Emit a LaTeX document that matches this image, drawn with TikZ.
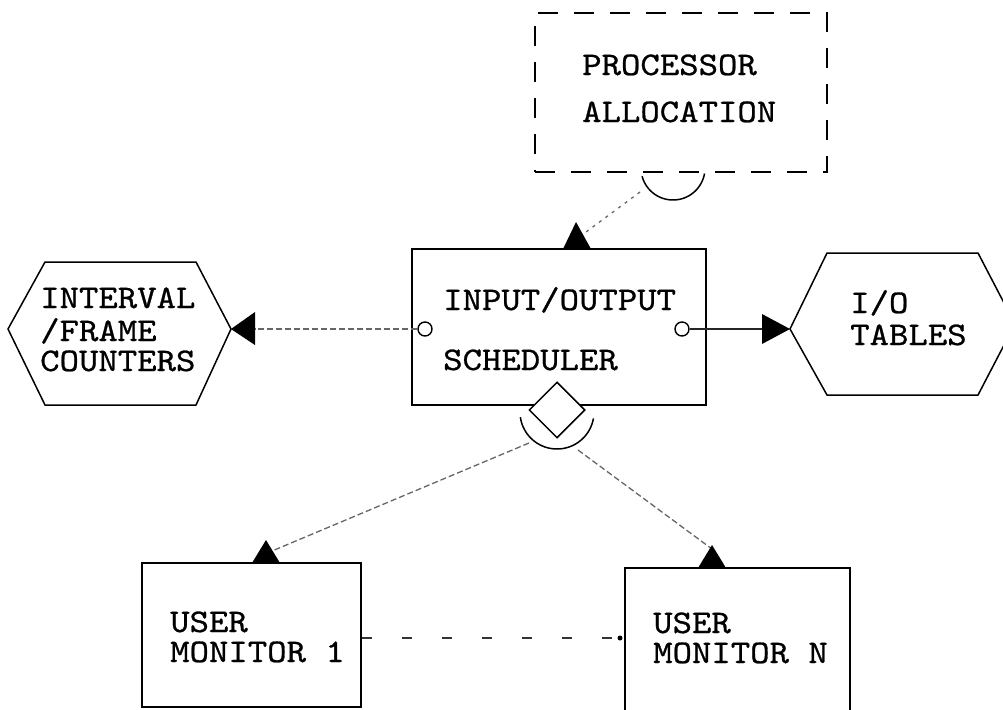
\documentclass[tikz,border=0pt]{standalone}
\usepackage{fontspec}
\setmonofont{lmmono10-regular.otf}[FakeStretch=1.12, FakeBold=0.8]
\usetikzlibrary{shapes.geometric}
\begin{document}
\begin{tikzpicture}[x=1pt,y=-1pt,
  box/.style={draw, line width=1.5pt, inner sep=0pt, rectangle},
  dbox/.style={box, dash pattern=on 20pt off 16pt},
  lbl/.style={font=\fontsize{33}{38}\selectfont\ttfamily, anchor=base west, inner sep=0pt},
  conn/.style={black!60, line width=1.3pt, dash pattern=on 6pt off 3pt},
  dotconn/.style={black!60, line width=1.3pt, dash pattern=on 3pt off 5pt},
  solidconn/.style={black!85, line width=1.3pt},
  tri/.style={fill=black},
  hex/.style={draw, line width=1.5pt, line join=miter},
  port/.style={circle, draw, line width=1.4pt, minimum size=14pt, inner sep=0pt, fill=white},
  sym/.style={line width=1.5pt}]
\clip (0,0) rectangle (1003,709);
\fill[white] (0,0) rectangle (1003,709);

% boxes
\node[dbox, minimum width=292pt, minimum height=159pt] (proc) at (681,92.5) {};
\node[box, minimum width=294pt, minimum height=156pt] (sched) at (559,327) {};
\node[box, minimum width=219pt, minimum height=144pt] (mon1) at (251.5,635) {};
\node[box, minimum width=225pt, minimum height=152pt] (monN) at (737.5,644) {};

% hexagons
\coordinate (ivL) at (8,329);
\coordinate (ivR) at (231,329);
\draw[hex] (ivL) -- (45,262) -- (196,262) -- (ivR) -- (196,405) -- (45,405) -- cycle;
\coordinate (ioL) at (790,329);
\coordinate (ioR) at (1015,324);
\draw[hex] (ioL) -- (827,253) -- (978,253) -- (ioR) -- (978,395) -- (827,395) -- cycle;

% labels
\node[lbl] (t1) at (582,75) {PROCESSOR};
\node[lbl] (t2) at (582,122) {ALLOCATION};
\node[lbl] (t3) at (443,310) {INPUT/OUTPUT};
\node[lbl] (t4) at (443,370) {SCHEDULER};
\node[lbl] (t5) at (40,308) {INTERVAL};
\node[lbl] (t6) at (40,341) {/FRAME};
\node[lbl] (t7) at (40,371) {COUNTERS};
\node[lbl] (t8) at (850,313) {I/O};
\node[lbl] (t9) at (850,345) {TABLES};
\node[lbl] (t10) at (170,632) {USER};
\node[lbl] (t11) at (170,662) {MONITOR 1};
\node[lbl] (t12) at (653,633) {USER};
\node[lbl] (t13) at (653,663) {MONITOR N};

% processor allocation connector
\draw[sym] plot[domain=10:165, samples=40] ({673+32*cos(\x)},{168+32*sin(\x)});
\coordinate (pa) at (640,192);
\coordinate (sa) at (586,232);
\draw[dotconn] (pa) -- (sa);
\fill[tri] (576,222) -- (591,249) -- (563,249) -- cycle;

% ports and horizontal connectors
\node[port] (lc) at (425,329) {};
\node[port] (rc) at (682,329) {};
\coordinate (triL) at (255,329);
\coordinate (triR) at (762,329);
\draw[conn] (lc.west) -- (triL);
\draw[solidconn] (rc.east) -- (triR);
\fill[tri] (ivR) -- (255,312) -- (255,345) -- cycle;
\fill[tri] (ioL) -- (762,314) -- (762,344) -- cycle;

% diamond and arc at scheduler bottom
\node[diamond, draw, line width=1.5pt, fill=white, minimum width=56pt, minimum height=56pt, inner sep=0pt] (dia) at (557,410) {};
\draw[sym] plot[domain=10:172, samples=40] ({557+37*cos(\x)},{412+37*sin(\x)});
\coordinate (arcL) at (529,443);
\coordinate (arcR) at (578,450);
\coordinate (m1t) at (272,551);
\coordinate (mNt) at (712,549);
\draw[conn] (arcL) -- (m1t);
\draw[conn] (arcR) -- (mNt);
\fill[tri] (266,540) -- (280,563) -- (252,563) -- cycle;
\fill[tri] (712,545) -- (726,568) -- (698,568) -- cycle;

% monitor link
\coordinate (mlink) at (monN.west |- 0,638);
\draw[black!80, line width=1.5pt, dash pattern=on 10pt off 30pt] (mon1.east |- 0,638) -- (mlink);
\fill (620,638) circle (2.5pt);
\end{tikzpicture}
\end{document}
